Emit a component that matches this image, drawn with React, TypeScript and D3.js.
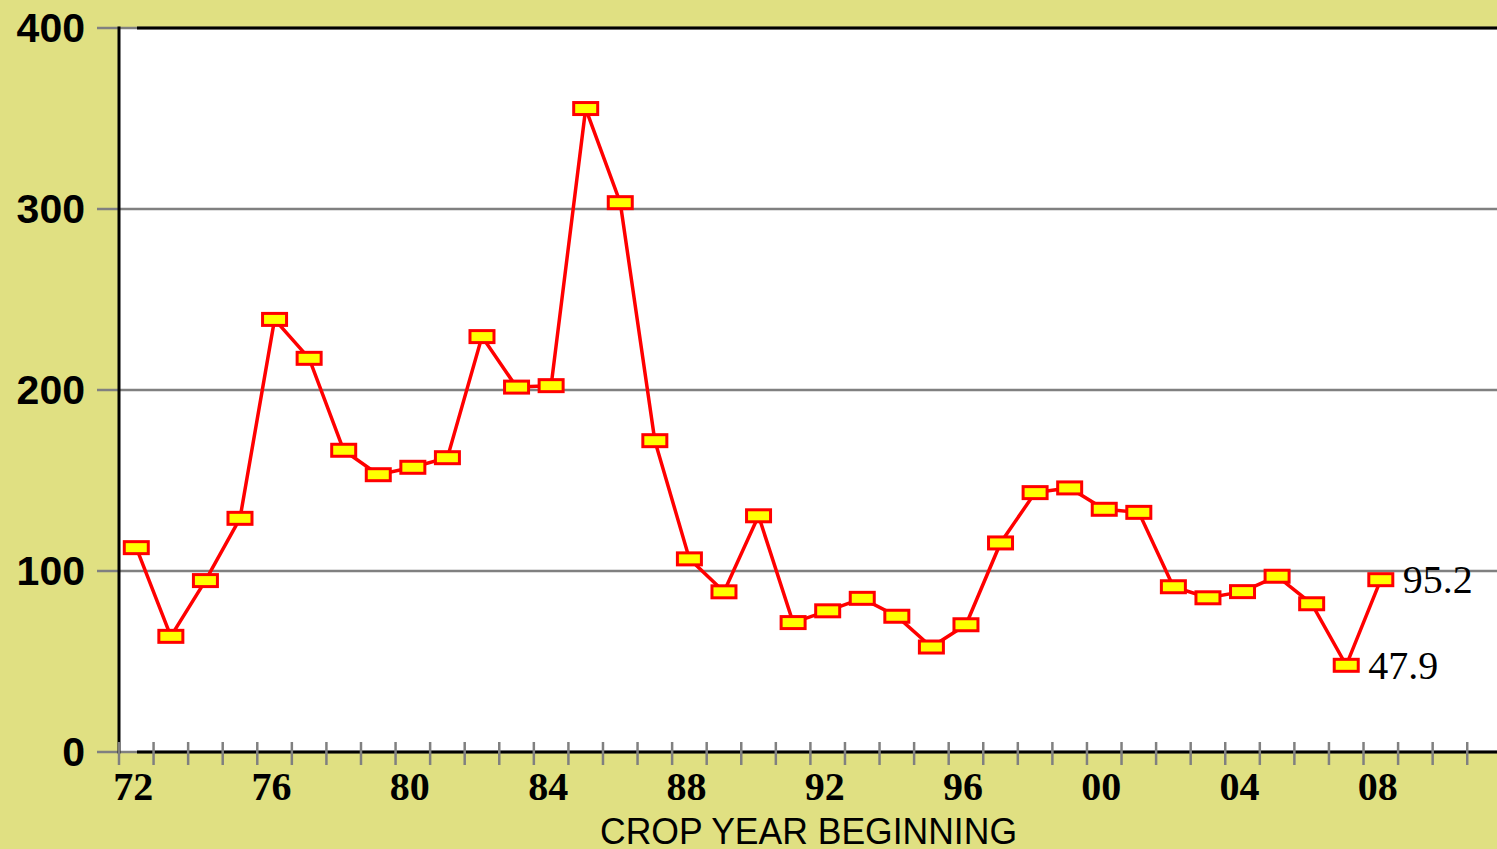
import React from "react";
import * as d3 from "d3";

const years: number[] = [
  1972, 1973, 1974, 1975, 1976, 1977, 1978, 1979, 1980, 1981, 1982, 1983,
  1984, 1985, 1986, 1987, 1988, 1989, 1990, 1991, 1992, 1993, 1994, 1995,
  1996, 1997, 1998, 1999, 2000, 2001, 2002, 2003, 2004, 2005, 2006, 2007, 2008,
];
const values: number[] = [
  112.9, 63.9, 94.7, 129.1, 239, 217.5, 166.7, 153.2, 157.3, 162.6, 229.5, 201.6,
  202.4, 355.5, 303.5, 172, 106.7, 88.5, 130.5, 71.5, 78, 84.9, 75, 58,
  70.3, 115.5, 143.3, 145.9, 134.1, 132.4, 91.3, 85.2, 88.6, 97.1, 81.9, 47.9, 95.2,
];
const yTicks: number[] = [0, 100, 200, 300, 400];
const xLabelYears: number[] = [1972, 1976, 1980, 1984, 1988, 1992, 1996, 2000, 2004, 2008];
const labeledPoints: { year: number; text: string }[] = [
  { year: 2007, text: "47.9" },
  { year: 2008, text: "95.2" },
];
const xTitle = "CROP YEAR BEGINNING";

const W = 1497;
const H = 849;
const left = 119;
const top = 28;
const bottom = 752;
const yearW = 34.57;

export default function App() {
  const x = d3.scaleLinear().domain([1972, 2012]).range([left, left + 40 * yearW]);
  const y = d3.scaleLinear().domain([0, 400]).range([bottom, top]);
  const data = years.map((yr, i) => ({ yr, v: values[i] }));
  const line = d3
    .line<{ yr: number; v: number }>()
    .x((d) => x(d.yr + 0.5))
    .y((d) => y(d.v));
  const tickYears = d3.range(1972, 2012);
  const bg = "#E0E082";

  return (
    <svg
      width={W}
      height={H}
      style={{ position: "fixed", left: 0, top: 0, display: "block" }}
    >
      <rect x={0} y={0} width={W} height={H} fill={bg} />
      <rect x={left} y={top} width={W - left} height={bottom - top} fill="#ffffff" />
      {yTicks.map((t) => (
        <line
          key={"g" + t}
          x1={97}
          x2={W}
          y1={y(t)}
          y2={y(t)}
          stroke="#808080"
          strokeWidth={2.5}
        />
      ))}
      <line x1={137} x2={W} y1={top} y2={top} stroke="#000" strokeWidth={3} />
      <line x1={137} x2={W} y1={bottom} y2={bottom} stroke="#000" strokeWidth={3} />
      <line x1={left} x2={left} y1={top - 1.5} y2={bottom + 1.5} stroke="#000" strokeWidth={3} />
      {tickYears.map((yr) => (
        <line
          key={"t" + yr}
          x1={x(yr)}
          x2={x(yr)}
          y1={742}
          y2={765}
          stroke="#808080"
          strokeWidth={2.5}
        />
      ))}
      {yTicks.map((t) => (
        <text
          key={"yl" + t}
          x={85}
          y={y(t)}
          textAnchor="end"
          dominantBaseline="central"
          fontFamily="Liberation Sans, Arial, sans-serif"
          fontWeight="bold"
          fontSize={41}
          fill="#000"
        >
          {t}
        </text>
      ))}
      {xLabelYears.map((yr) => (
        <text
          key={"xl" + yr}
          x={x(yr + 0.5) - 3}
          y={786}
          textAnchor="middle"
          dominantBaseline="central"
          fontFamily="Liberation Serif, Times New Roman, serif"
          fontWeight="bold"
          fontSize={40}
          fill="#000"
        >
          {String(yr % 100).padStart(2, "0")}
        </text>
      ))}
      <text
        x={600}
        y={844}
        textLength={417}
        lengthAdjust="spacingAndGlyphs"
        fontFamily="Liberation Sans, Arial, sans-serif"
        fontSize={37}
        fill="#000"
      >
        {xTitle}
      </text>
      <path d={line(data) || ""} fill="none" stroke="#ff0000" strokeWidth={3.5} strokeLinejoin="miter" />
      {data.map((d) => (
        <rect
          key={"m" + d.yr}
          x={x(d.yr + 0.5) - 12}
          y={y(d.v) - 6}
          width={24}
          height={12}
          fill="#ffff00"
          stroke="#ff0000"
          strokeWidth={3}
        />
      ))}
      {labeledPoints.map((p) => {
        const v = values[years.indexOf(p.year)];
        return (
          <text
            key={"dl" + p.year}
            x={x(p.year + 0.5) + 22}
            y={y(v)}
            dominantBaseline="central"
            fontFamily="Liberation Serif, Times New Roman, serif"
            fontSize={40}
            fill="#000"
          >
            {p.text}
          </text>
        );
      })}
    </svg>
  );
}
